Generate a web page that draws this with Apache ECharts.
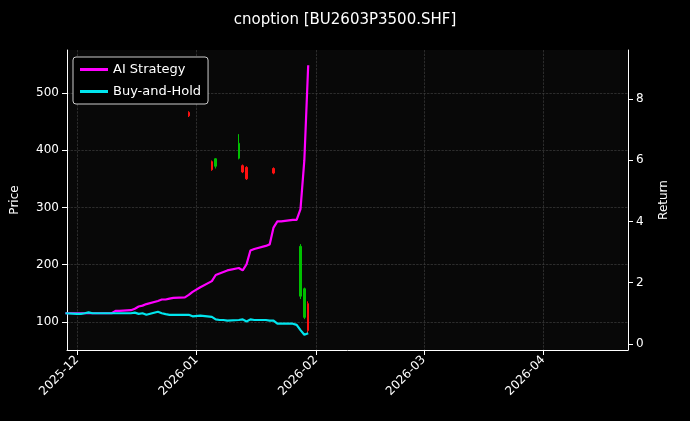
<!DOCTYPE html>
<html><head><meta charset="utf-8">
<script src="https://cdn.jsdelivr.net/npm/echarts@6/dist/echarts.min.js"></script>
<style>html,body{margin:0;background:#000}#c{width:690px;height:421px}</style>
</head><body><div id="c"></div>
<script>
// trading days and returns
var dates = ['2025-11-28','2025-12-01','2025-12-02','2025-12-03','2025-12-04','2025-12-05','2025-12-08','2025-12-09','2025-12-10','2025-12-11','2025-12-12',
  '2025-12-15','2025-12-16','2025-12-17','2025-12-18','2025-12-19','2025-12-22','2025-12-23','2025-12-24','2025-12-25','2025-12-26',
  '2025-12-29','2025-12-30','2025-12-31','2026-01-02','2026-01-05','2026-01-06','2026-01-07','2026-01-08','2026-01-09',
  '2026-01-12','2026-01-13','2026-01-14','2026-01-15','2026-01-16','2026-01-19','2026-01-20','2026-01-21','2026-01-22','2026-01-23',
  '2026-01-26','2026-01-27','2026-01-28','2026-01-29','2026-01-30'];
var aiReturn = [1.0,1.0,1.0,1.0,1.0,1.0,1.0,1.0,1.0,1.08,1.08,
  1.1,1.15,1.22,1.25,1.3,1.4,1.45,1.45,1.48,1.5,
  1.52,1.6,1.7,1.85,2.05,2.25,2.3,2.35,2.4,
  2.48,2.4,2.6,3.05,3.1,3.2,3.25,3.8,4.0,4.0,
  4.05,4.05,4.4,6.0,9.1];
var bhReturn = [1.0,0.98,0.98,1.0,1.03,1.0,1.0,1.0,1.0,1.0,1.0,
  1.0,1.02,0.98,1.0,0.95,1.05,1.0,0.97,0.95,0.95,
  0.95,0.95,0.9,0.92,0.88,0.8,0.78,0.78,0.76,
  0.78,0.8,0.73,0.8,0.78,0.78,0.76,0.76,0.66,0.66,
  0.66,0.62,0.45,0.3,0.35];
// candles: [date, open, close, low, high]
var candles = [
  ['2025-12-30',466,460,458,468],
  ['2026-01-05',380,366,364,382],
  ['2026-01-06',372,385,368,386],
  ['2026-01-12',386,412,384,428],
  ['2026-01-13',373,362,360,375],
  ['2026-01-14',370,350,348,372],
  ['2026-01-21',368,360,358,370],
  ['2026-01-28',145,232,140,236],
  ['2026-01-29',108,158,105,160],
  ['2026-01-30',132,85,80,136]
];
var monthTicks = ['2025-12-01','2026-01-01','2026-02-01','2026-03-01','2026-04-01'];
var priceTicks = [100, 200, 300, 400, 500];
var returnTicks = [0, 2, 4, 6, 8];

function ts(d) { return Date.UTC(+d.slice(0, 4), +d.slice(5, 7) - 1, +d.slice(8, 10)); }

var chart = echarts.init(document.getElementById('c'));
var gridLine = {show: true, lineStyle: {color: '#444', type: 'dashed', width: 0.6}};
var tickVals = monthTicks.map(ts);
chart.setOption({
  backgroundColor: '#000',
  animation: false,
  textStyle: {fontFamily: 'DejaVu Sans'},
  title: {text: 'cnoption [BU2603P3500.SHF]', left: 'center', top: 8,
    textStyle: {color: '#fff', fontSize: 15, fontWeight: 'normal'}},
  legend: {left: 73, top: 57, orient: 'vertical', itemWidth: 28, itemHeight: 3, itemGap: 9,
    backgroundColor: '#000', borderColor: '#ccc', borderWidth: 1, borderRadius: 3, padding: [6, 7],
    textStyle: {color: '#fff', fontSize: 13},
    data: [{name: 'AI Strategy', icon: 'rect'}, {name: 'Buy-and-Hold', icon: 'rect'}]},
  grid: {left: 67, right: 62, top: 50, bottom: 71, backgroundColor: '#080808', show: true, borderWidth: 0},
  xAxis: {type: 'value', min: ts('2025-11-28') + 0.4 * 86400000, max: ts('2026-04-23'),
    axisLine: {show: true, onZero: false, lineStyle: {color: '#fff'}},
    axisTick: {show: true, customValues: tickVals},
    splitLine: gridLine,
    axisLabel: {color: '#fff', rotate: 45, fontSize: 12, margin: 8, customValues: tickVals,
      formatter: function (v) { var d = new Date(v); return d.getUTCFullYear() + '-' + String(d.getUTCMonth() + 1).padStart(2, '0'); }}
  },
  yAxis: [
    {type: 'value', name: 'Price', nameLocation: 'middle', nameGap: 46, nameTextStyle: {color: '#fff', fontSize: 12},
      min: 51, max: 575,
      axisLine: {show: true, onZero: false, lineStyle: {color: '#fff'}},
      axisTick: {show: true, customValues: priceTicks},
      axisLabel: {color: '#fff', fontSize: 12, customValues: priceTicks},
      splitLine: gridLine},
    {type: 'value', name: 'Return', nameLocation: 'middle', nameGap: 30, nameTextStyle: {color: '#fff', fontSize: 12},
      min: -0.2, max: 9.6,
      axisLine: {show: true, onZero: false, lineStyle: {color: '#fff'}},
      axisTick: {show: true, customValues: returnTicks},
      axisLabel: {color: '#fff', fontSize: 12, customValues: returnTicks},
      splitLine: {show: false}}
  ],
  series: [
    {type: 'candlestick', yAxisIndex: 0, barMaxWidth: 2, barWidth: 2,
      data: candles.map(function (c) { return [ts(c[0]), c[1], c[2], c[3], c[4]]; }),
      itemStyle: {color: '#00c000', color0: '#ff1010', borderColor: '#00c000', borderColor0: '#ff1010'}},
    {name: 'AI Strategy', type: 'line', yAxisIndex: 1, showSymbol: false, color: '#ff00ff', lineStyle: {width: 2.2},
      data: dates.map(function (d, i) { return [ts(d), aiReturn[i]]; })},
    {name: 'Buy-and-Hold', type: 'line', yAxisIndex: 1, showSymbol: false, color: '#00e5ee', lineStyle: {width: 2.2},
      data: dates.map(function (d, i) { return [ts(d), bhReturn[i]]; })}
  ]
});
</script></body></html>
